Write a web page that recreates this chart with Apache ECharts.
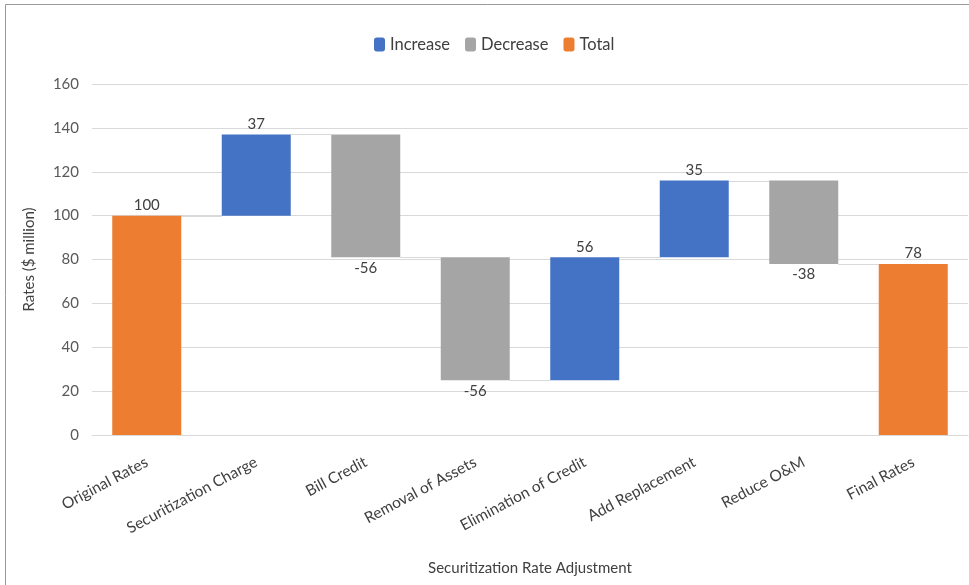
<!DOCTYPE html>
<html>
<head>
<meta charset="utf-8">
<script src="https://cdn.jsdelivr.net/npm/echarts@6/dist/echarts.min.js"></script>
<style>html,body{margin:0;padding:0;background:#fff;}#c{width:969px;height:585px;}</style>
</head>
<body>
<div id="c"></div>
<script>
const categories = ['Original Rates','Securitization Charge','Bill Credit','Removal of Assets','Elimination of Credit','Add Replacement','Reduce O&M','Final Rates'];
const startTotal = 100;
const deltas = [37, -56, -56, 56, 35, -38];
const endTotal = 78;
const yTicks = [0, 20, 40, 60, 80, 100, 120, 140, 160];

// build stacked series from the values
const base = [], inc = [], dec = [], tot = [], levels = [];
let run = startTotal;
base.push(0); inc.push('-'); dec.push('-'); tot.push(startTotal); levels.push(run);
deltas.forEach(d => {
  const lo = d >= 0 ? run : run + d;
  base.push(lo);
  if (d >= 0) { inc.push(d); dec.push('-'); } else { inc.push('-'); dec.push(-d); }
  tot.push('-');
  run += d;
  levels.push(run);
});
base.push(0); inc.push('-'); dec.push('-'); tot.push(endTotal); levels.push(endTotal);
const signed = [startTotal, ...deltas, endTotal];
const connData = levels.slice(0, levels.length - 1).map((v, i) => [i, v]);

const txt = '#404040';
const font = 'Lato';
const chart = echarts.init(document.getElementById('c'));
chart.setOption({
  animation: false,
  textStyle: { fontFamily: font },
  graphic: [{ type: 'rect', shape: { x: 5.5, y: 4.5, width: 1000, height: 1000 }, style: { fill: 'none', stroke: '#9a9a9a', lineWidth: 1 }, silent: true }],
  legend: {
    data: ['Increase', 'Decrease', 'Total'],
    top: 31, left: 369,
    itemWidth: 11, itemHeight: 14, itemGap: 15,
    textStyle: { color: txt, fontSize: 16.5, fontFamily: font }
  },
  grid: { left: 92, right: 1, top: 84, bottom: 150 },
  xAxis: {
    type: 'category', data: categories,
    name: 'Securitization Rate Adjustment', nameLocation: 'middle', nameGap: 126,
    nameTextStyle: { color: txt, fontSize: 15, fontFamily: font },
    axisLine: { lineStyle: { color: '#d9d9d9' } },
    axisTick: { show: false },
    axisLabel: { rotate: 28, color: txt, fontSize: 15.5, margin: 26, interval: 0, fontFamily: font }
  },
  yAxis: {
    type: 'value', min: 0, max: 160, interval: 20,
    name: 'Rates ($ million)', nameLocation: 'middle', nameGap: 55,
    nameTextStyle: { color: txt, fontSize: 15, fontFamily: font },
    axisLabel: { color: '#595959', fontSize: 15, margin: 13, fontFamily: font, formatter: v => yTicks.includes(v) ? String(v) : '' },
    splitLine: { lineStyle: { color: '#d9d9d9' } },
    axisLine: { show: false }, axisTick: { show: false }
  },
  series: [
    { name: 'base', type: 'bar', stack: 'w', data: base, barWidth: '63%', itemStyle: { color: 'transparent' }, silent: true },
    { name: 'Increase', type: 'bar', stack: 'w', data: inc, itemStyle: { color: '#4472c4' },
      label: { show: true, position: 'top', color: txt, fontSize: 15, distance: 3, fontFamily: font, formatter: p => String(signed[p.dataIndex]) } },
    { name: 'Decrease', type: 'bar', stack: 'w', data: dec, itemStyle: { color: '#a5a5a5' },
      label: { show: true, position: 'bottom', color: txt, fontSize: 15, distance: 3, fontFamily: font, formatter: p => String(signed[p.dataIndex]) } },
    { name: 'Total', type: 'bar', stack: 'w', data: tot, itemStyle: { color: '#ed7d31' },
      label: { show: true, position: 'top', color: txt, fontSize: 15, distance: 3, fontFamily: font, formatter: p => String(signed[p.dataIndex]) } },
    { name: 'conn', type: 'custom', data: connData, silent: true, z: 1,
      renderItem: (params, api) => {
        const p = api.coord([api.value(0), api.value(1)]);
        const w = api.size([1, 0])[0];
        const bw = w * 0.63;
        const y = Math.round(p[1]) + 0.5;
        return { type: 'line', shape: { x1: p[0] + bw / 2, y1: y, x2: p[0] + w - bw / 2, y2: y },
          style: { stroke: '#d9d9d9', lineWidth: 1 } };
      } }
  ]
});
</script>
</body>
</html>
